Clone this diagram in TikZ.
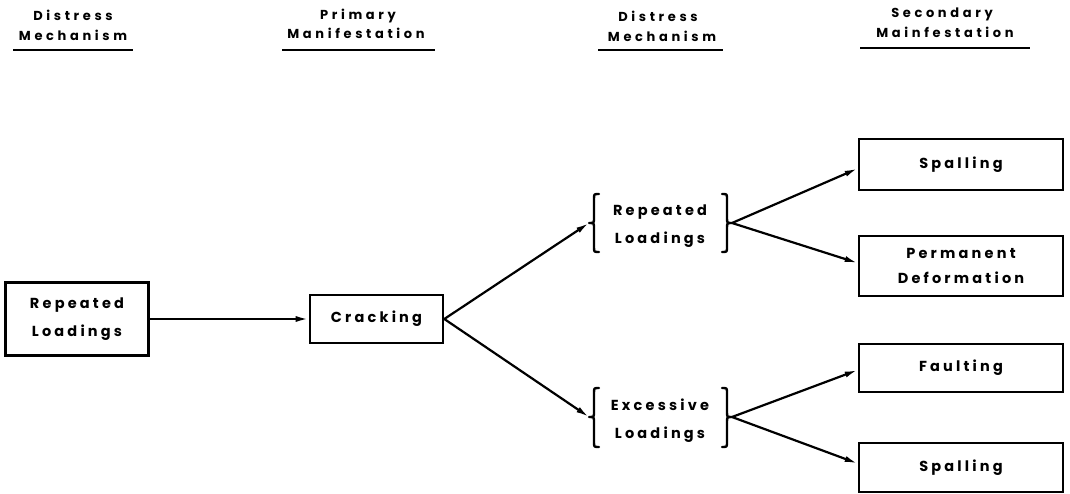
\documentclass[tikz,border=0pt]{standalone}
\usepackage{fontspec}
\newfontfamily\letfont{Poppins}[LetterSpace=22]
\newfontfamily\hletfont{Poppins}[LetterSpace=28]
\usetikzlibrary{arrows.meta}
\newcommand\boxfnt{\letfont\bfseries\fontsize{14.5}{28}\selectfont}
\newcommand\hdrfnt{\hletfont\bfseries\fontsize{13}{14}\selectfont}
\begin{document}
\begin{tikzpicture}[x=1pt,y=-1pt,
  box/.style={draw, line width=2.6pt, inner sep=0pt, align=center, font=\boxfnt},
  txt/.style={inner sep=0pt, align=center, font=\boxfnt},
  hdr/.style={inner sep=0pt, anchor=base, font=\hdrfnt},
  uline/.style={line width=2.4pt},
  brc/.style={line width=2.4pt, line cap=round, line join=round},
  arr/.style={line width=2.2pt, -{Latex[length=13pt,width=6pt]}}]
\useasboundingbox (0,0) rectangle (1070,494);
% headers
\node[hdr] (h1a) at (73,21) {Distress};
\node[hdr] (h1b) at (73,41) {Mechanism};
\node[hdr] (h2a) at (358,20) {Primary};
\node[hdr] (h2b) at (356,39) {Manifestation};
\node[hdr] (h3a) at (658,22) {Distress};
\node[hdr] (h3b) at (662,42) {Mechanism};
\node[hdr] (h4a) at (942,18) {Secondary};
\node[hdr] (h4b) at (945,38) {Mainfestation};
\draw[uline] (13,50) -- (133,50);
\draw[uline] (282,50) -- (435,50);
\draw[uline] (598,50) -- (723,50);
\draw[uline] (860,48) -- (1030,48);
% boxes
\node[box, minimum width=143pt, minimum height=73pt] (rl) at (77,319) {Repeated\\Loadings};
\node[box, minimum width=133pt, minimum height=48pt] (cr) at (376.5,319) {Cracking};
\node[box, minimum width=204pt, minimum height=51pt] (sp1) at (961,164.5) {Spalling};
\node[box, minimum width=204pt, minimum height=60pt, font=\letfont\bfseries\fontsize{14.5}{25}\selectfont] (pd) at (961,266) {Permanent\\Deformation};
\node[box, minimum width=204pt, minimum height=48pt] (fa) at (961,368) {Faulting};
\node[box, minimum width=204pt, minimum height=49pt] (sp2) at (961,467.5) {Spalling};
% brace groups
\node[txt] (b1) at (660,226) {Repeated\\Loadings};
\node[txt] (b2) at (660,421) {Excessive\\Loadings};
\coordinate (L1) at (589,223);
\coordinate (R1) at (732,223);
\coordinate (L2) at (589,417);
\coordinate (R2) at (732,417);
% braces group 1
\draw[brc] (599,194) .. controls (594,194) .. (594,199) -- (594,218)
  .. controls (594,223) .. (L1) .. controls (594,223) .. (594,228) -- (594,247)
  .. controls (594,252) .. (599,252);
\draw[brc] (722,194) .. controls (727,194) .. (727,199) -- (727,218)
  .. controls (727,223) .. (R1) .. controls (727,223) .. (727,228) -- (727,247)
  .. controls (727,252) .. (722,252);
% braces group 2
\draw[brc] (599,388) .. controls (594,388) .. (594,393) -- (594,412)
  .. controls (594,417) .. (L2) .. controls (594,417) .. (594,422) -- (594,442)
  .. controls (594,447) .. (599,447);
\draw[brc] (722,388) .. controls (727,388) .. (727,393) -- (727,412)
  .. controls (727,417) .. (R2) .. controls (727,417) .. (727,422) -- (727,442)
  .. controls (727,447) .. (722,447);
% connectors
\draw[arr] (rl.east) -- (cr.west);
\draw[arr] (cr.east) -- (L1);
\draw[arr] (cr.east) -- (L2);
\draw[arr] (R1) -- ([yshift=-4pt]sp1.west);
\draw[arr] (R1) -- ([yshift=3pt]pd.west);
\draw[arr] (R2) -- ([yshift=-2pt]fa.west);
\draw[arr] (R2) -- ([yshift=4pt]sp2.west);
\end{tikzpicture}
\end{document}
